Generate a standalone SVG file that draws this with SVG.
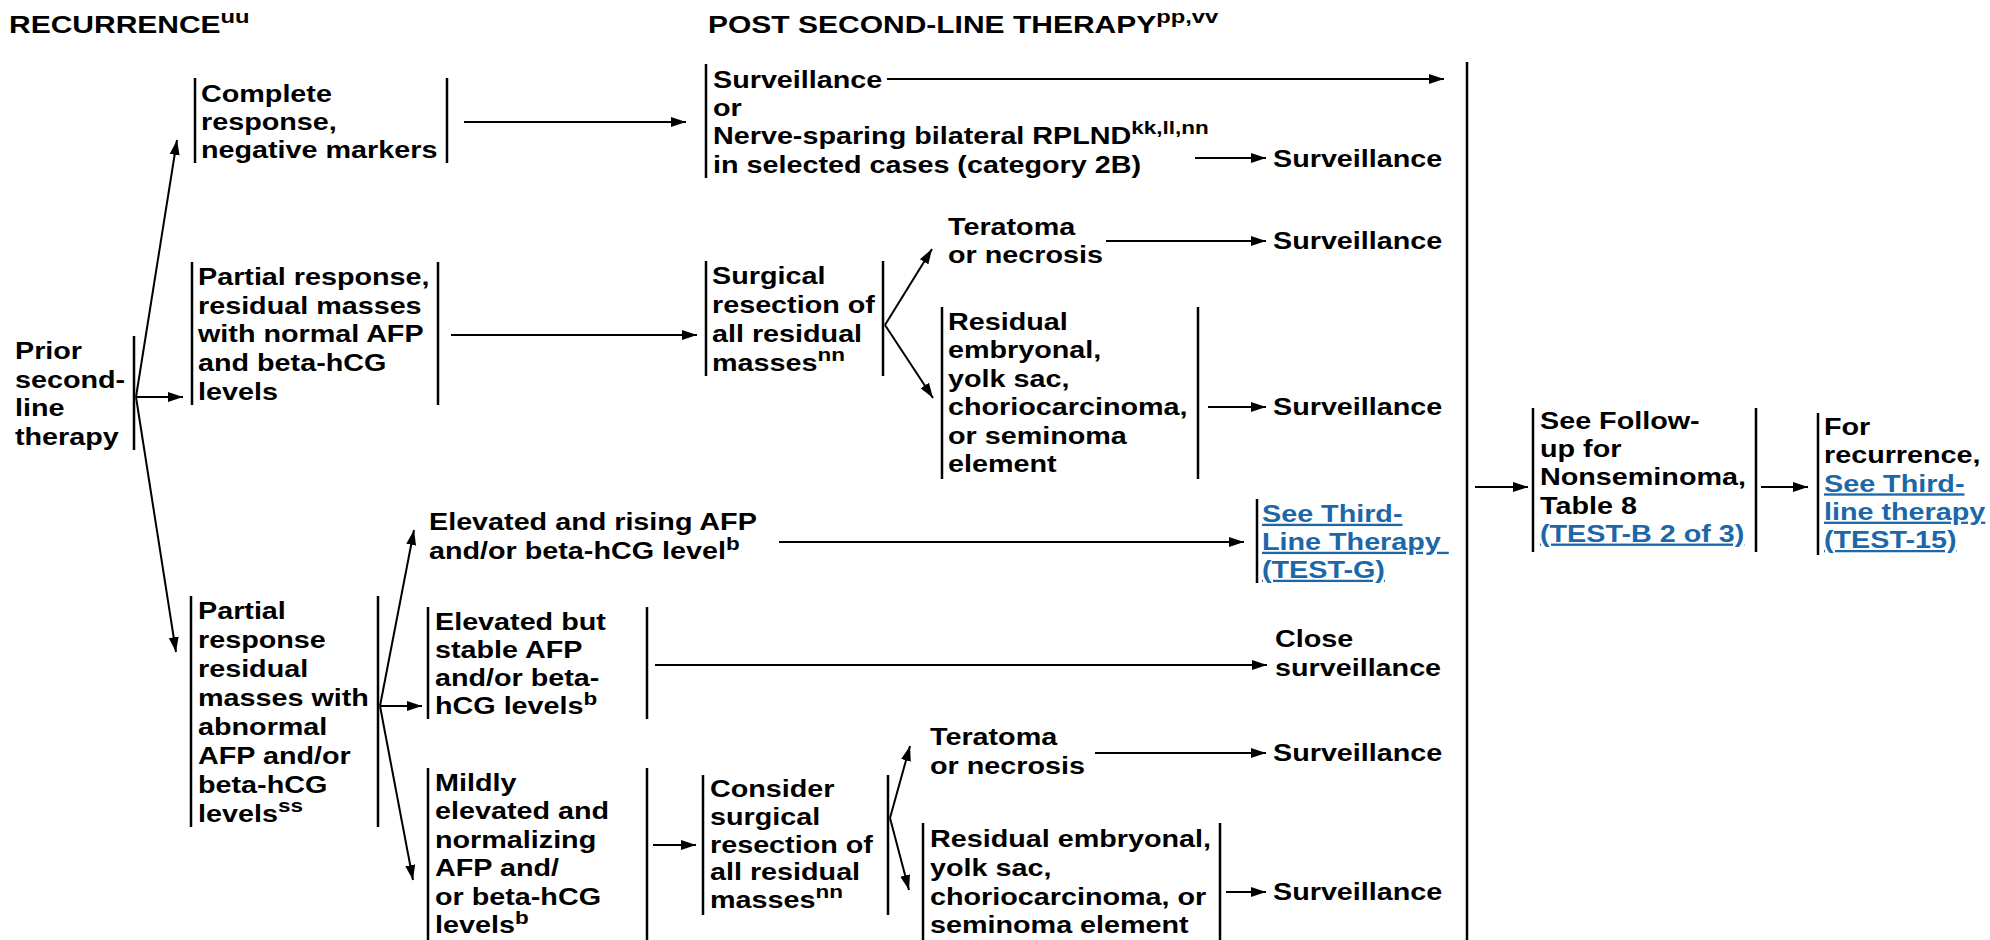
<svg xmlns="http://www.w3.org/2000/svg" width="1990" height="940" viewBox="0 0 1990 940">
<style>
.t{font-family:"Liberation Sans",Arial,sans-serif;font-weight:bold;font-size:23px;fill:#000}
.h{font-size:24px}
.sup{font-size:18px}
.hsup{font-size:19px}
.link{fill:#1c67a8;text-decoration:underline}
.bar{stroke:#000;stroke-width:2.5;fill:none}
.c line{stroke:#000;stroke-width:2;marker-end:url(#ah)}
</style>
<defs>
<marker id="ah" markerUnits="userSpaceOnUse" markerWidth="16" markerHeight="12" refX="15" refY="6" orient="auto"><path d="M0,1 L15,6 L0,11 z" fill="#000"/></marker>
</defs>
<rect width="1990" height="940" fill="#fff"/>

<g id="titles">
<text class="t h" transform="translate(9,33) scale(1.25,1)">RECURRENCE<tspan class="hsup" dy="-10">uu</tspan></text>
<text class="t h" transform="translate(708,33) scale(1.25,1)">POST SECOND-LINE THERAPY<tspan class="hsup" dy="-10">pp,vv</tspan></text>
</g>

<g id="n-prior">
<line class="bar" x1="134" y1="336" x2="134" y2="450"/>
<text class="t" transform="translate(15,359) scale(1.25,1)"><tspan x="0" y="0">Prior</tspan><tspan x="0" y="28.7">second-</tspan><tspan x="0" y="57.4">line</tspan><tspan x="0" y="86.1">therapy</tspan></text>
</g>

<g id="n-complete">
<line class="bar" x1="195" y1="78" x2="195" y2="163"/>
<line class="bar" x1="447" y1="78" x2="447" y2="163"/>
<text class="t" transform="translate(201,101.5) scale(1.25,1)"><tspan x="0" y="0">Complete</tspan><tspan x="0" y="28.3">response,</tspan><tspan x="0" y="56.6">negative markers</tspan></text>
</g>

<g id="n-partial-normal">
<line class="bar" x1="192" y1="262" x2="192" y2="405"/>
<line class="bar" x1="438" y1="262" x2="438" y2="405"/>
<text class="t" transform="translate(198,285) scale(1.25,1)"><tspan x="0" y="0">Partial response,</tspan><tspan x="0" y="28.7">residual masses</tspan><tspan x="0" y="57.4">with normal AFP</tspan><tspan x="0" y="86.1">and beta-hCG</tspan><tspan x="0" y="114.8">levels</tspan></text>
</g>

<g id="n-partial-abnormal">
<line class="bar" x1="191" y1="596" x2="191" y2="827"/>
<line class="bar" x1="378" y1="596" x2="378" y2="827"/>
<text class="t" transform="translate(198,619) scale(1.25,1)"><tspan x="0" y="0">Partial</tspan><tspan x="0" y="29">response</tspan><tspan x="0" y="58">residual</tspan><tspan x="0" y="87">masses with</tspan><tspan x="0" y="116">abnormal</tspan><tspan x="0" y="145">AFP and/or</tspan><tspan x="0" y="174">beta-hCG</tspan><tspan x="0" y="203">levels</tspan><tspan class="sup" dy="-10">ss</tspan></text>
</g>

<g id="n-surv-or-rplnd">
<line class="bar" x1="706" y1="64" x2="706" y2="178"/>
<text class="t" transform="translate(713,87.5) scale(1.25,1)"><tspan x="0" y="0">Surveillance</tspan><tspan x="0" y="28.5">or</tspan><tspan x="0" y="57">Nerve-sparing bilateral RPLND</tspan><tspan class="sup" dy="-10">kk,ll,nn</tspan><tspan x="0" y="85.5">in selected cases (category 2B)</tspan></text>
</g>

<g id="n-surv1"><text class="t" transform="translate(1273,167) scale(1.25,1)">Surveillance</text></g>

<g id="n-surgical">
<line class="bar" x1="706" y1="261" x2="706" y2="376"/>
<line class="bar" x1="883" y1="261" x2="883" y2="376"/>
<text class="t" transform="translate(712,284) scale(1.25,1)"><tspan x="0" y="0">Surgical</tspan><tspan x="0" y="29">resection of</tspan><tspan x="0" y="58">all residual</tspan><tspan x="0" y="87">masses</tspan><tspan class="sup" dy="-10">nn</tspan></text>
</g>

<g id="n-teratoma1"><text class="t" transform="translate(948,235) scale(1.25,1)"><tspan x="0" y="0">Teratoma</tspan><tspan x="0" y="28">or necrosis</tspan></text></g>
<g id="n-surv2"><text class="t" transform="translate(1273,249) scale(1.25,1)">Surveillance</text></g>

<g id="n-residual1">
<line class="bar" x1="942" y1="307" x2="942" y2="479"/>
<line class="bar" x1="1198" y1="307" x2="1198" y2="479"/>
<text class="t" transform="translate(948,330) scale(1.25,1)"><tspan x="0" y="0">Residual</tspan><tspan x="0" y="28.4">embryonal,</tspan><tspan x="0" y="56.8">yolk sac,</tspan><tspan x="0" y="85.2">choriocarcinoma,</tspan><tspan x="0" y="113.6">or seminoma</tspan><tspan x="0" y="142">element</tspan></text>
</g>
<g id="n-surv3"><text class="t" transform="translate(1273,415) scale(1.25,1)">Surveillance</text></g>

<g id="n-rising"><text class="t" transform="translate(429,530) scale(1.25,1)"><tspan x="0" y="0">Elevated and rising AFP</tspan><tspan x="0" y="29">and/or beta-hCG level</tspan><tspan class="sup" dy="-9">b</tspan></text></g>

<g id="n-third-g">
<line class="bar" x1="1257" y1="499" x2="1257" y2="583"/>
<text class="t link" transform="translate(1262,522) scale(1.25,1)"><tspan x="0" y="0">See Third-</tspan><tspan x="0" y="28">Line Therapy </tspan><tspan x="0" y="56">(TEST-G)</tspan></text>
</g>

<g id="n-stable">
<line class="bar" x1="428" y1="607" x2="428" y2="719"/>
<line class="bar" x1="647" y1="607" x2="647" y2="719"/>
<text class="t" transform="translate(435,630) scale(1.25,1)"><tspan x="0" y="0">Elevated but</tspan><tspan x="0" y="28">stable AFP</tspan><tspan x="0" y="56">and/or beta-</tspan><tspan x="0" y="84">hCG levels</tspan><tspan class="sup" dy="-9">b</tspan></text>
</g>
<g id="n-close"><text class="t" transform="translate(1275,647) scale(1.25,1)"><tspan x="0" y="0">Close</tspan><tspan x="0" y="29">surveillance</tspan></text></g>

<g id="n-mild">
<line class="bar" x1="428" y1="768" x2="428" y2="940"/>
<line class="bar" x1="647" y1="768" x2="647" y2="940"/>
<text class="t" transform="translate(435,791) scale(1.25,1)"><tspan x="0" y="0">Mildly</tspan><tspan x="0" y="28.5">elevated and</tspan><tspan x="0" y="57">normalizing</tspan><tspan x="0" y="85.5">AFP and/</tspan><tspan x="0" y="114">or beta-hCG</tspan><tspan x="0" y="142.5">levels</tspan><tspan class="sup" dy="-9">b</tspan></text>
</g>

<g id="n-consider">
<line class="bar" x1="703" y1="775" x2="703" y2="915"/>
<line class="bar" x1="888" y1="775" x2="888" y2="915"/>
<text class="t" transform="translate(710,797) scale(1.25,1)"><tspan x="0" y="0">Consider</tspan><tspan x="0" y="27.8">surgical</tspan><tspan x="0" y="55.6">resection of</tspan><tspan x="0" y="83.4">all residual</tspan><tspan x="0" y="111.2">masses</tspan><tspan class="sup" dy="-10">nn</tspan></text>
</g>

<g id="n-teratoma2"><text class="t" transform="translate(930,745) scale(1.25,1)"><tspan x="0" y="0">Teratoma</tspan><tspan x="0" y="29">or necrosis</tspan></text></g>
<g id="n-surv4"><text class="t" transform="translate(1273,761) scale(1.25,1)">Surveillance</text></g>

<g id="n-residual2">
<line class="bar" x1="923" y1="823" x2="923" y2="940"/>
<line class="bar" x1="1220" y1="823" x2="1220" y2="940"/>
<text class="t" transform="translate(930,847) scale(1.25,1)"><tspan x="0" y="0">Residual embryonal,</tspan><tspan x="0" y="28.8">yolk sac,</tspan><tspan x="0" y="57.6">choriocarcinoma, or</tspan><tspan x="0" y="86.4">seminoma element</tspan></text>
</g>
<g id="n-surv5"><text class="t" transform="translate(1273,900) scale(1.25,1)">Surveillance</text></g>

<g id="n-collector"><line class="bar" x1="1467" y1="62" x2="1467" y2="940"/></g>

<g id="n-followup">
<line class="bar" x1="1533" y1="408" x2="1533" y2="552"/>
<line class="bar" x1="1756" y1="408" x2="1756" y2="552"/>
<text class="t" transform="translate(1540,429) scale(1.25,1)"><tspan x="0" y="0">See Follow-</tspan><tspan x="0" y="28.2">up for</tspan><tspan x="0" y="56.4">Nonseminoma,</tspan><tspan x="0" y="84.6">Table 8</tspan><tspan class="link" x="0" y="112.8">(TEST-B 2 of 3)</tspan></text>
</g>

<g id="n-recurrence">
<line class="bar" x1="1818" y1="413" x2="1818" y2="555"/>
<text class="t" transform="translate(1824,435) scale(1.25,1)"><tspan x="0" y="0">For</tspan><tspan x="0" y="28.3">recurrence,</tspan><tspan class="link" x="0" y="56.6">See Third-</tspan><tspan class="link" x="0" y="84.9">line therapy</tspan><tspan class="link" x="0" y="113.2">(TEST-15)</tspan></text>
</g>

<g id="connectors" class="c">
<line x1="136" y1="397" x2="177" y2="140"/>
<line x1="136" y1="397" x2="183" y2="397"/>
<line x1="136" y1="397" x2="176" y2="652"/>
<line x1="464" y1="122" x2="686" y2="122"/>
<line x1="887" y1="79" x2="1444" y2="79"/>
<line x1="1195" y1="158" x2="1266" y2="158"/>
<line x1="451" y1="335" x2="697" y2="335"/>
<line x1="885" y1="325" x2="932" y2="249"/>
<line x1="885" y1="325" x2="933" y2="398"/>
<line x1="1106" y1="241" x2="1266" y2="241"/>
<line x1="1208" y1="407" x2="1266" y2="407"/>
<line x1="380" y1="706" x2="414" y2="530"/>
<line x1="380" y1="706" x2="422" y2="706"/>
<line x1="380" y1="706" x2="413" y2="880"/>
<line x1="779" y1="542" x2="1244" y2="542"/>
<line x1="655" y1="665" x2="1267" y2="665"/>
<line x1="653" y1="845" x2="696" y2="845"/>
<line x1="890" y1="818" x2="910" y2="746"/>
<line x1="890" y1="818" x2="909" y2="890"/>
<line x1="1095" y1="753" x2="1266" y2="753"/>
<line x1="1226" y1="892" x2="1266" y2="892"/>
<line x1="1475" y1="487" x2="1528" y2="487"/>
<line x1="1761" y1="487" x2="1808" y2="487"/>
</g>
</svg>
